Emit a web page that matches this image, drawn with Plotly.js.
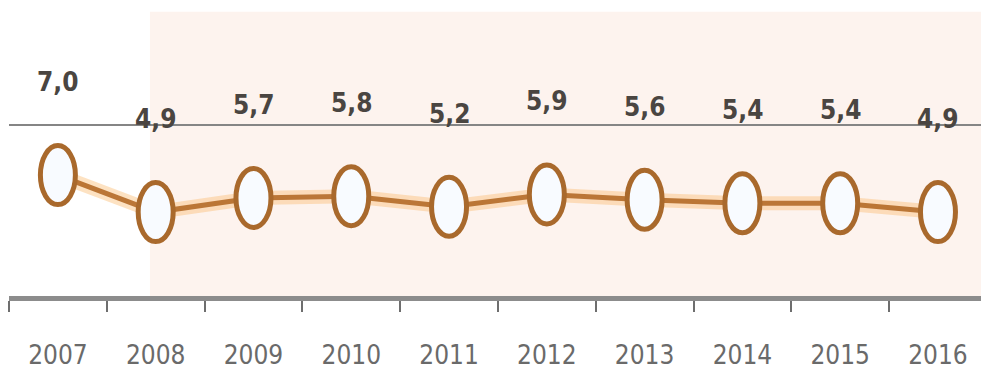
<!DOCTYPE html>
<html>
<head>
<meta charset="utf-8">
<script src="https://cdn.plot.ly/plotly-3.0.1.min.js"></script>
<style>html,body{margin:0;padding:0;background:#fff;}#chart{width:981px;height:389px;}</style>
</head>
<body>
<div id="chart"></div>
<script>
const years = ["2007","2008","2009","2010","2011","2012","2013","2014","2015","2016"];
const values = [7.0, 4.9, 5.7, 5.8, 5.2, 5.9, 5.6, 5.4, 5.4, 4.9];
const valueLabels = ["7,0","4,9","5,7","5,8","5,2","5,9","5,6","5,4","5,4","4,9"];

const FONT = "Liberation Sans Narrow, DejaVu Sans Condensed, Arial Narrow, sans-serif";

const glow = {
  x: years, y: values, type: "scatter", mode: "lines",
  line: {color: "rgba(250,190,120,0.45)", width: 14},
  hoverinfo: "skip", showlegend: false
};
const line = {
  x: years, y: values, type: "scatter", mode: "lines",
  line: {color: "#bb7636", width: 5},
  showlegend: false
};

const shapes = [
  {type: "rect", xref: "paper", yref: "paper", x0: 0.145, x1: 1, y0: 0, y1: 0.96,
   fillcolor: "#fdf3ee", line: {width: 0}, layer: "below"},
  {type: "line", xref: "paper", yref: "paper", x0: 0, x1: 1, y0: 0.578, y1: 0.578,
   line: {color: "#858585", width: 2}, layer: "below"}
];
years.forEach((yr, i) => {
  shapes.push({
    type: "circle", xref: "x", yref: "y",
    xsizemode: "pixel", ysizemode: "pixel",
    xanchor: i, yanchor: values[i],
    x0: -17.5, x1: 17.5, y0: -29.5, y1: 29.5,
    fillcolor: "#f8fbff", line: {color: "#a9692c", width: 5}, layer: "above"
  });
});

const annotations = years.map((yr, i) => ({
  x: i, y: values[i], xref: "x", yref: "y",
  text: valueLabels[i], showarrow: false, yshift: 93,
  font: {family: FONT, size: 26, color: "#4a4541", weight: "bold"}
}));

const layout = {
  width: 981, height: 389,
  margin: {l: 9, r: 0, t: 0, b: 93},
  paper_bgcolor: "#ffffff", plot_bgcolor: "rgba(0,0,0,0)",
  showlegend: false,
  xaxis: {
    type: "category", range: [-0.5, 9.44],
    showgrid: false, zeroline: false,
    showline: true, linecolor: "#8c8c8c", linewidth: 5,
    ticks: "outside", tickson: "boundaries", ticklen: 11, tickwidth: 2, tickcolor: "#6e6e6e",
    ticklabelstandoff: 32,
    tickfont: {family: FONT, size: 26, color: "#6a6a6a"},
    fixedrange: true
  },
  yaxis: {
    range: [0.13, 16.95], visible: false, fixedrange: true
  },
  shapes: shapes,
  annotations: annotations
};

Plotly.newPlot("chart", [glow, line], layout, {displayModeBar: false, staticPlot: true});
</script>
</body>
</html>
